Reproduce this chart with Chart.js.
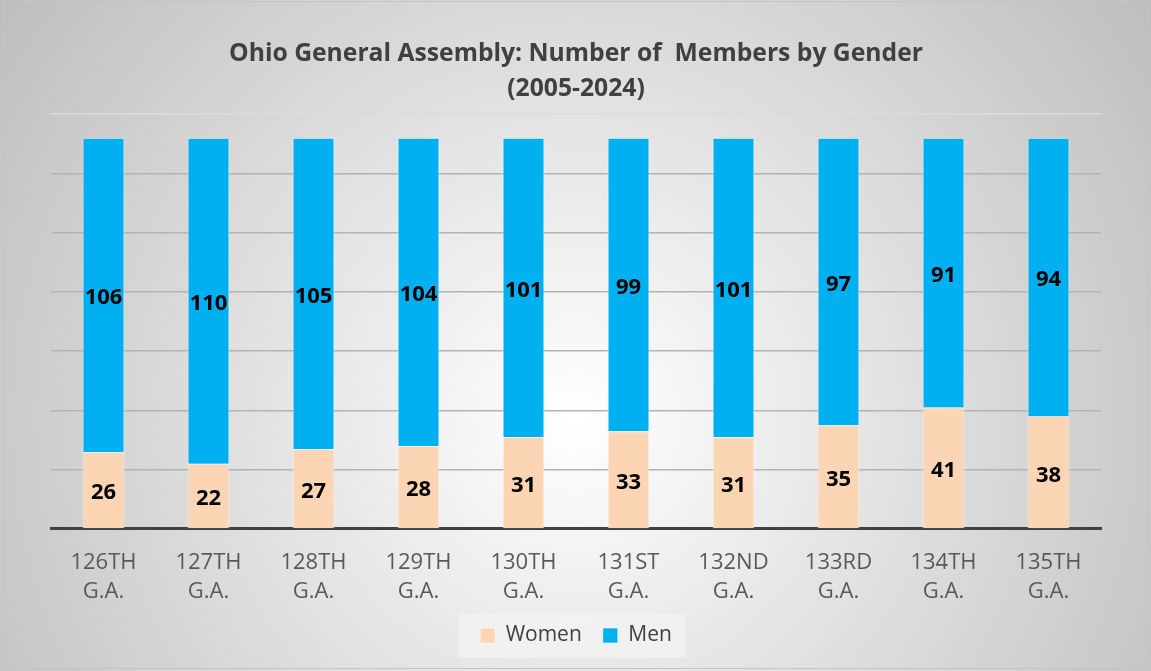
<!DOCTYPE html>
<html>
<head>
<meta charset="utf-8">
<script src="https://cdn.jsdelivr.net/npm/chart.js@4/dist/chart.umd.min.js"></script>
<style>
  html, body { margin: 0; padding: 0; background: #fff; }
  #wrap { width: 1151px; height: 671px; position: relative; }
</style>
</head>
<body>
<div id="wrap"><canvas id="genderChart"></canvas></div>
<script>
const assemblies = [
    ['126TH', 'G.A.'], ['127TH', 'G.A.'], ['128TH', 'G.A.'], ['129TH', 'G.A.'], ['130TH', 'G.A.'],
    ['131ST', 'G.A.'], ['132ND', 'G.A.'], ['133RD', 'G.A.'], ['134TH', 'G.A.'], ['135TH', 'G.A.']
];
const women = [26, 22, 27, 28, 31, 33, 31, 35, 41, 38];
const men = [106, 110, 105, 104, 101, 99, 101, 97, 91, 94];
const yMax = 140;
const yStep = 20;

// gradient backdrop, outer border and legend panel
const backdrop = {
    id: 'backdrop',
    beforeDraw(chart) {
        const c = chart.ctx;
        const w = chart.width, h = chart.height;
        c.save();
        const g = c.createRadialGradient(575, 420, 0, 575, 420, 720);
        g.addColorStop(0, '#ffffff');
        g.addColorStop(1, '#bdbdbd');
        c.fillStyle = g;
        c.fillRect(0, 0, w, h);
        c.strokeStyle = '#c4c4c4';
        c.lineWidth = 1;
        c.strokeRect(3.5, 1.5, w - 6, h - 4);
        const boxes = chart.legend.legendHitBoxes;
        if (boxes && boxes.length) {
            const first = boxes[0], last = boxes[boxes.length - 1];
            const cy = first.top + first.height / 2;
            c.fillStyle = 'rgba(242,242,242,0.9)';
            c.fillRect(first.left - 22, cy - 22, (last.left + last.width) - first.left + 36, 44);
        }
        c.restore();
    }
};

// value labels centred in each segment
const segmentLabels = {
    id: 'segmentLabels',
    afterDatasetsDraw(chart) {
        const c = chart.ctx;
        c.save();
        c.font = 'bold 22px "Open Sans", sans-serif';
        c.fillStyle = '#000000';
        c.textAlign = 'center';
        c.textBaseline = 'middle';
        chart.data.datasets.forEach((ds, i) => {
            chart.getDatasetMeta(i).data.forEach((bar, j) => {
                c.fillText(ds.data[j], bar.x, (bar.y + bar.base) / 2 + 3);
            });
        });
        c.restore();
    }
};

new Chart(document.getElementById('genderChart').getContext('2d'), {
    type: 'bar',
    data: {
        labels: assemblies,
        datasets: [
            {
                label: 'Women',
                data: women,
                backgroundColor: '#FCD5B4',
                borderColor: 'rgba(255,255,255,0.6)',
                borderWidth: 1,
                categoryPercentage: 0.4,
                barPercentage: 1
            },
            {
                label: 'Men',
                data: men,
                backgroundColor: '#00B0F0',
                borderColor: 'rgba(255,255,255,0.6)',
                borderWidth: 1,
                categoryPercentage: 0.4,
                barPercentage: 1
            }
        ]
    },
    options: {
        responsive: true,
        maintainAspectRatio: false,
        animation: false,
        layout: {
            padding: { top: 21, left: 51, right: 50, bottom: 15 }
        },
        scales: {
            x: {
                stacked: true,
                grid: { display: false },
                border: { display: true, color: '#404040', width: 3 },
                ticks: {
                    color: '#595959',
                    font: { family: '"Open Sans", sans-serif', size: 22, lineHeight: 1.32 },
                    padding: 11,
                    maxRotation: 0
                },
                // legend padding is wider below, give that room back
                afterFit: scale => { scale.height -= 13; }
            },
            y: {
                stacked: true,
                min: 0,
                max: yMax,
                ticks: { display: false, stepSize: yStep },
                border: { display: false },
                grid: {
                    drawTicks: false,
                    lineWidth: 1.5,
                    color: ctx => ctx.tick.value === yMax ? '#dcdcdc' : '#b3b3b3'
                }
            }
        },
        plugins: {
            title: {
                display: true,
                text: ['Ohio General Assembly: Number of  Members by Gender', '(2005-2024)'],
                color: '#404040',
                font: { family: '"Open Sans", sans-serif', size: 24.7, weight: 'bold', lineHeight: 1.4 },
                padding: { top: 16, bottom: 8 }
            },
            legend: {
                position: 'bottom',
                labels: {
                    color: '#404040',
                    font: { family: '"Open Sans", sans-serif', size: 21 },
                    boxWidth: 15,
                    boxHeight: 15,
                    padding: 21
                }
            },
            tooltip: { enabled: false }
        }
    },
    plugins: [backdrop, segmentLabels]
});
</script>
</body>
</html>
